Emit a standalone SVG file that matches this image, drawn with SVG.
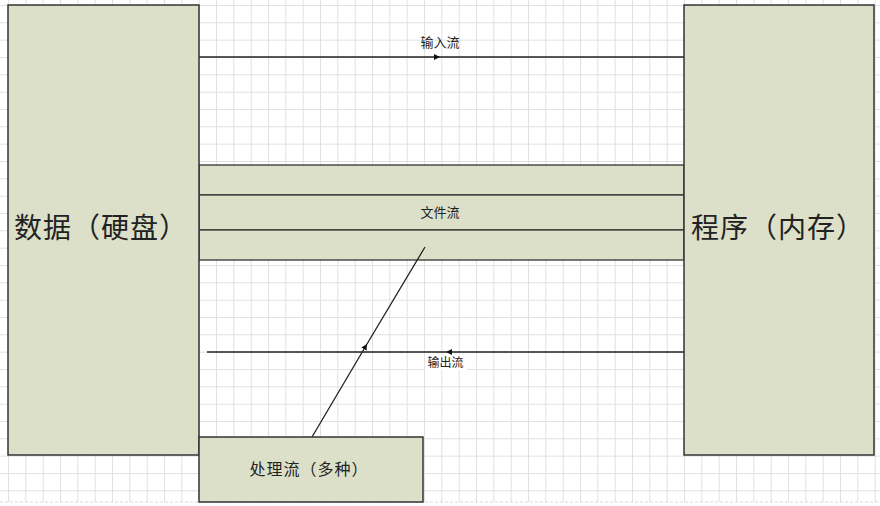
<svg xmlns="http://www.w3.org/2000/svg" width="880" height="506" viewBox="0 0 880 506">
<style>
.box{fill:#dce0c9;stroke:#333;stroke-width:1.5}
.band{fill:#dce0c9;stroke:#333;stroke-width:1.3}
.conn{fill:none;stroke:#222;stroke-width:1.3}
.big{font-family:"Noto Sans CJK SC","Noto Sans",sans-serif;font-size:28px;letter-spacing:1px;fill:#222}
.lbl{font-family:"Noto Sans CJK SC","Noto Sans",sans-serif;font-size:13px;fill:#222;text-anchor:middle}
</style>
<defs>
<pattern id="grid" patternUnits="userSpaceOnUse" x="8" y="5" width="17.333" height="17.333">
<path d="M0,0.5 H17.333 M0.5,0 V17.333" fill="none" stroke="#e0e0e0" stroke-width="1"/>
</pattern>
<marker id="arr" markerUnits="userSpaceOnUse" markerWidth="8" markerHeight="7" refX="6" refY="3" orient="auto">
<path d="M0,0 L6,3 L0,6 z" fill="#111"/>
</marker>
</defs>
<rect x="0" y="0" width="880" height="506" fill="#fff"/>
<rect x="0" y="0" width="880" height="502" fill="url(#grid)"/>
<line x1="0" y1="502" x2="880" y2="502" stroke="#d8d8d8" stroke-width="1" stroke-dasharray="3,2"/>

<g id="file-stream">
<rect class="band" x="199" y="165" width="485" height="30"/>
<rect class="band" x="199" y="195" width="485" height="35"/>
<rect class="band" x="199" y="230" width="485" height="30"/>
<text class="lbl" x="440" y="216.5">文件流</text>
</g>

<g id="connectors">
<polyline class="conn" points="199,57 440,57 684,57" marker-mid="url(#arr)"/>
<polyline class="conn" points="684,352 446,352 207,352" marker-mid="url(#arr)"/>
<polyline class="conn" points="312,437 367,344 425,247" marker-mid="url(#arr)"/>
</g>

<g id="labels">
<text class="lbl" x="440" y="47">输入流</text>
<rect x="425" y="355" width="42" height="15" fill="#fff"/>
<text class="lbl" x="445.5" y="366.5" style="font-size:12px">输出流</text>
</g>

<g id="data-disk">
<rect class="box" x="8" y="5" width="191" height="450"/>
<text class="big" x="14" y="238">数据（硬盘）</text>
</g>

<g id="program-memory">
<rect class="box" x="684" y="5" width="190" height="450"/>
<text class="big" x="691" y="238">程序（内存）</text>
</g>

<g id="process-stream">
<rect class="box" x="199" y="437" width="224" height="65"/>
<text class="lbl" x="309" y="475" style="font-size:16px;letter-spacing:1px">处理流（多种）</text>
</g>
</svg>
